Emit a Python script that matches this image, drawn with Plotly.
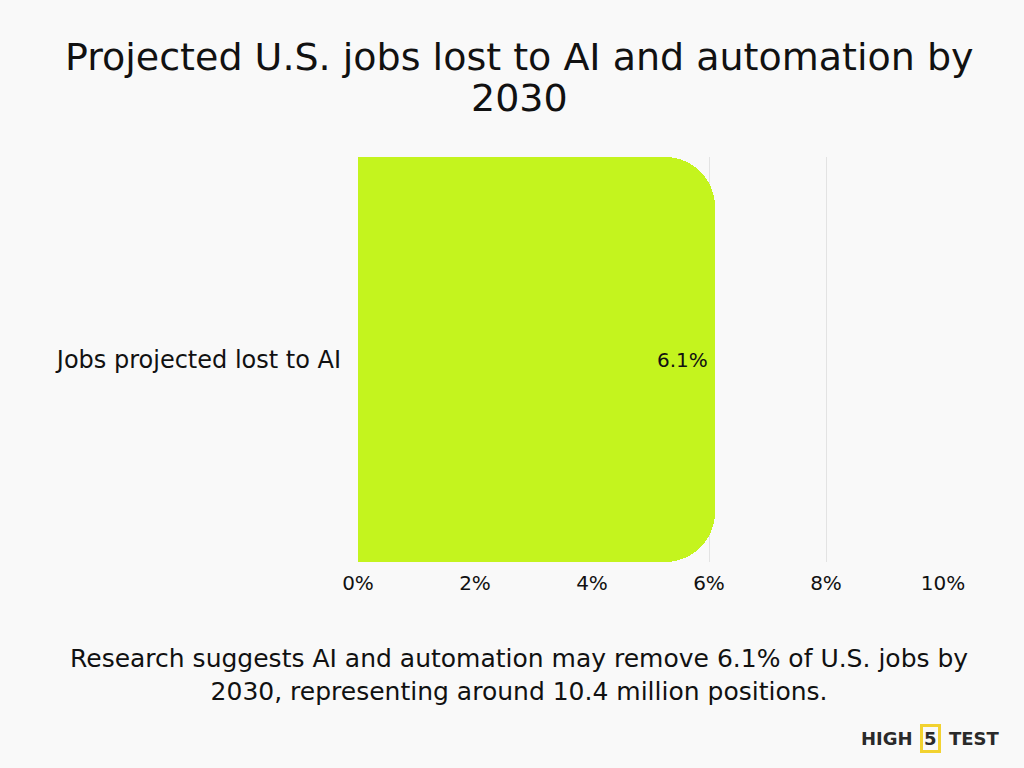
import plotly.graph_objects as go

categories = ["Jobs projected lost to AI"]
values = [6.1]
value_labels = ["6.1%"]
tick_vals = [0, 2, 4, 6, 8, 10]
tick_text = ["0%", "2%", "4%", "6%", "8%", "10%"]

title_lines = ["Projected U.S. jobs lost to AI and automation by", "2030"]
caption_text = ("Research suggests AI and automation may remove 6.1% of U.S. jobs by<br>"
                "2030, representing around 10.4 million positions.")

FONT = "DejaVu Sans"
W, H = 1024, 768
ML, MR, MT, MB = 358, 81, 157, 206

def py(pixel_y):
    return (H - MB - pixel_y) / (H - MT - MB)
def px(pixel_x):
    return (pixel_x - ML) / (W - ML - MR)

fig = go.Figure(go.Bar(
    x=values,
    y=categories,
    orientation="h",
    marker=dict(color="#c4f41e", cornerradius=50, line=dict(width=0)),
    width=1,
    hoverinfo="skip",
))

fig.update_layout(
    width=W, height=H,
    paper_bgcolor="#f9f9f9",
    plot_bgcolor="#f9f9f9",
    margin=dict(l=ML, r=MR, t=MT, b=MB),
    bargap=0,
    showlegend=False,
    xaxis=dict(range=[0, 10], tickvals=tick_vals, ticktext=tick_text,
               showgrid=True, gridcolor="#e3e3e3", gridwidth=1,
               zeroline=False, showline=False, ticks="",
               ticklabelstandoff=7,
               tickfont=dict(family=FONT, size=20, color="#111111")),
    yaxis=dict(showgrid=False, zeroline=False, showline=False, ticks="",
               range=[-0.5, 0.5], ticklabelstandoff=16,
               tickfont=dict(family=FONT, size=24, color="#111111")),
)

# value label at the end of the bar
fig.add_annotation(text=value_labels[0], x=values[0], y=categories[0],
                   xref="x", yref="y", xanchor="right", yanchor="middle",
                   xshift=-5, showarrow=False,
                   font=dict(family=FONT, size=20, color="#111111"))

# title (two lines)
for line, cy in zip(title_lines, [57, 98]):
    fig.add_annotation(text=line, x=px(519), y=py(cy), xref="paper", yref="paper",
                       xanchor="center", yanchor="middle", showarrow=False,
                       font=dict(family=FONT, size=38, color="#111111"))

# caption
fig.add_annotation(text=caption_text, x=px(519), y=py(675), xref="paper", yref="paper",
                   xanchor="center", yanchor="middle", showarrow=False,
                   font=dict(family=FONT, size=25, color="#111111"))

# logo
fig.add_annotation(text="<b>HIGH</b>", x=px(915), y=py(738), xref="paper", yref="paper",
                   xanchor="right", yanchor="middle", showarrow=False,
                   font=dict(family=FONT, size=18, color="#2a2a2a"))
fig.add_annotation(text="<b>5</b>", x=px(930), y=py(738), xref="paper", yref="paper",
                   xanchor="center", yanchor="middle", showarrow=False,
                   bordercolor="#f2d230", borderwidth=3, borderpad=1,
                   font=dict(family=FONT, size=18, color="#2a2a2a"))
fig.add_annotation(text="<b>TEST</b>", x=px(947), y=py(738), xref="paper", yref="paper",
                   xanchor="left", yanchor="middle", showarrow=False,
                   font=dict(family=FONT, size=18, color="#2a2a2a"))

fig.write_html("out.html", config={"displayModeBar": False},
               post_script="document.body.style.margin='0';document.body.style.background='#f9f9f9';")
